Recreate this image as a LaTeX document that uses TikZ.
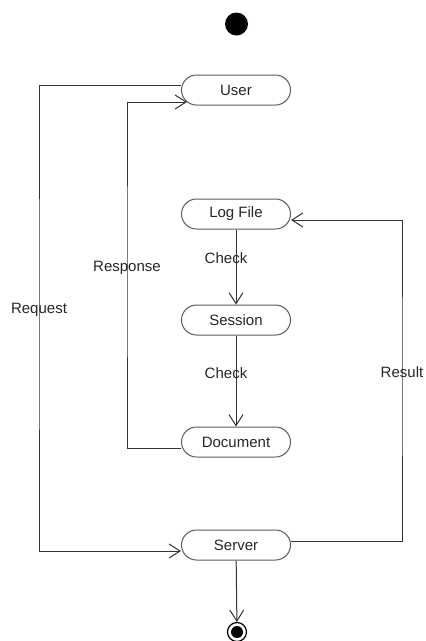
\documentclass[tikz,border=0pt]{standalone}
\usepackage{fontspec}
\setmainfont{Liberation Sans}
\usepackage{tikz}
\usetikzlibrary{arrows.meta}
\definecolor{edgegray}{HTML}{333333}
\definecolor{boxgray}{HTML}{5A5A5A}
\tikzset{
  activity/.style={draw=boxgray, line width=1pt, rectangle, rounded corners=15pt,
    minimum width=109pt, minimum height=30pt, inner sep=0pt, text=black!85},
  flow/.style={draw=edgegray, line width=1pt, -{Straight Barb[length=11pt,width=14pt]}},
  flowlabel/.style={text=black!85, inner sep=0pt}
}

\begin{document}
\begin{tikzpicture}[x=1pt, y=-1pt, font=\fontsize{15}{17}\selectfont]
\useasboundingbox (0,0) rectangle (426,641);
% start and end
\fill[black] (236.5,24) circle [radius=11.5];
\node[circle, draw=black, line width=1.2pt, minimum size=19pt, inner sep=0pt] (final) at (237,632) {};
\fill[black] (final.center) circle [radius=6];
% activities
\node[activity] (user) at (236,90) {User};
\node[activity] (logfile) at (236,214) {Log File};
\node[activity] (session) at (236,320) {Session};
\node[activity] (document) at (236,442) {Document};
\node[activity] (server) at (236,545) {Server};
% bends
\coordinate (reqbend) at (39,310);
\coordinate (resbend) at (127,268);
\coordinate (resultbend) at (402,372);
\draw[flow] (logfile) -- node[flowlabel, pos=0.38, xshift=-10pt] {Check} (session);
\draw[flow] (session) -- node[flowlabel, pos=0.41, xshift=-10pt] {Check} (document);
\draw[flow] (server) -- (final);
\draw[flow] ([yshift=5pt]user.west) -| (reqbend) |- ([yshift=-6pt]server.west);
\draw[flow] ([yshift=-6pt]document.west) -| (resbend) |- ([yshift=-12pt,xshift=6pt]user.west);
\draw[flow] ([yshift=4pt]server.east) -| (resultbend) |- ([yshift=-6pt]logfile.east);
\node[flowlabel] at (reqbend) {Request};
\node[flowlabel] at (resbend) {Response};
\node[flowlabel] at (resultbend) {Result};
\end{tikzpicture}
\end{document}
